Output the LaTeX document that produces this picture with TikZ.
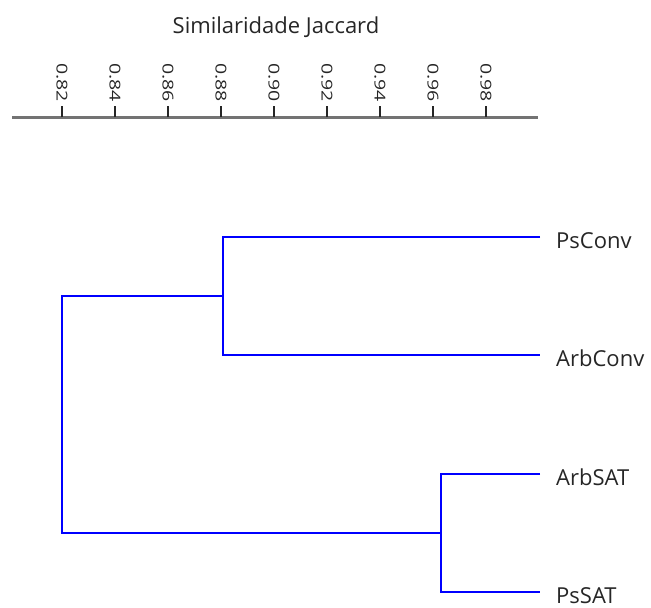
\documentclass[tikz,border=0pt]{standalone}
\usepackage{fontspec}
\setmainfont{Open Sans}
\begin{document}
\begin{tikzpicture}[x=1pt,y=-1pt,
  branch/.style={draw=blue, line width=2pt},
  axisline/.style={draw=black!55, line width=3pt},
  tickmark/.style={draw=black!85, line width=1.4pt},
  leaf/.style={anchor=west, inner xsep=16pt, inner ysep=0pt, text height=22pt, text depth=0pt, text=black!85, font=\fontsize{22}{26}\selectfont},
  ticklab/.style={rotate=-90, anchor=east, inner sep=0pt, text=black!85, font=\fontsize{15}{18}\selectfont},
  titlelab/.style={anchor=base, text=black!85, font=\fontsize{22}{26}\selectfont}]
\useasboundingbox (0,0) rectangle (651,608);
% axis
\node[titlelab] (title) at (276,33) {Similaridade Jaccard};
\coordinate (axL) at (12,117);
\coordinate (axR) at (538,117);
\draw[axisline] (axL) -- (axR);
\foreach \v/\x in {0.82/62,0.84/115,0.86/168,0.88/221,0.90/274,0.92/327,0.94/380,0.96/433,0.98/486}{
  \coordinate (t\x) at (\x,117);
  \draw[tickmark] (t\x) -- ++(0,-11) coordinate (tt\x);
  \node[ticklab] at ([yshift=4pt]tt\x) {\scalebox{1.3}[1]{\v}};
}
% leaves
\node[leaf] (PsConv) at (540,237) {PsConv};
\node[leaf] (ArbConv) at (540,355) {ArbConv};
\node[leaf] (ArbSAT) at (540,474) {ArbSAT};
\node[leaf] (PsSAT) at (540,592) {PsSAT};
% junctions
\coordinate (c1) at (222.5,296);
\coordinate (c2) at (441,533);
\coordinate (root) at (61.5,414);
\draw[branch] (PsConv.west) -| (c1) |- (ArbConv.west);
\draw[branch] (ArbSAT.west) -| (c2) |- (PsSAT.west);
\draw[branch] (c1) -| (root) |- (c2);
\end{tikzpicture}
\end{document}
